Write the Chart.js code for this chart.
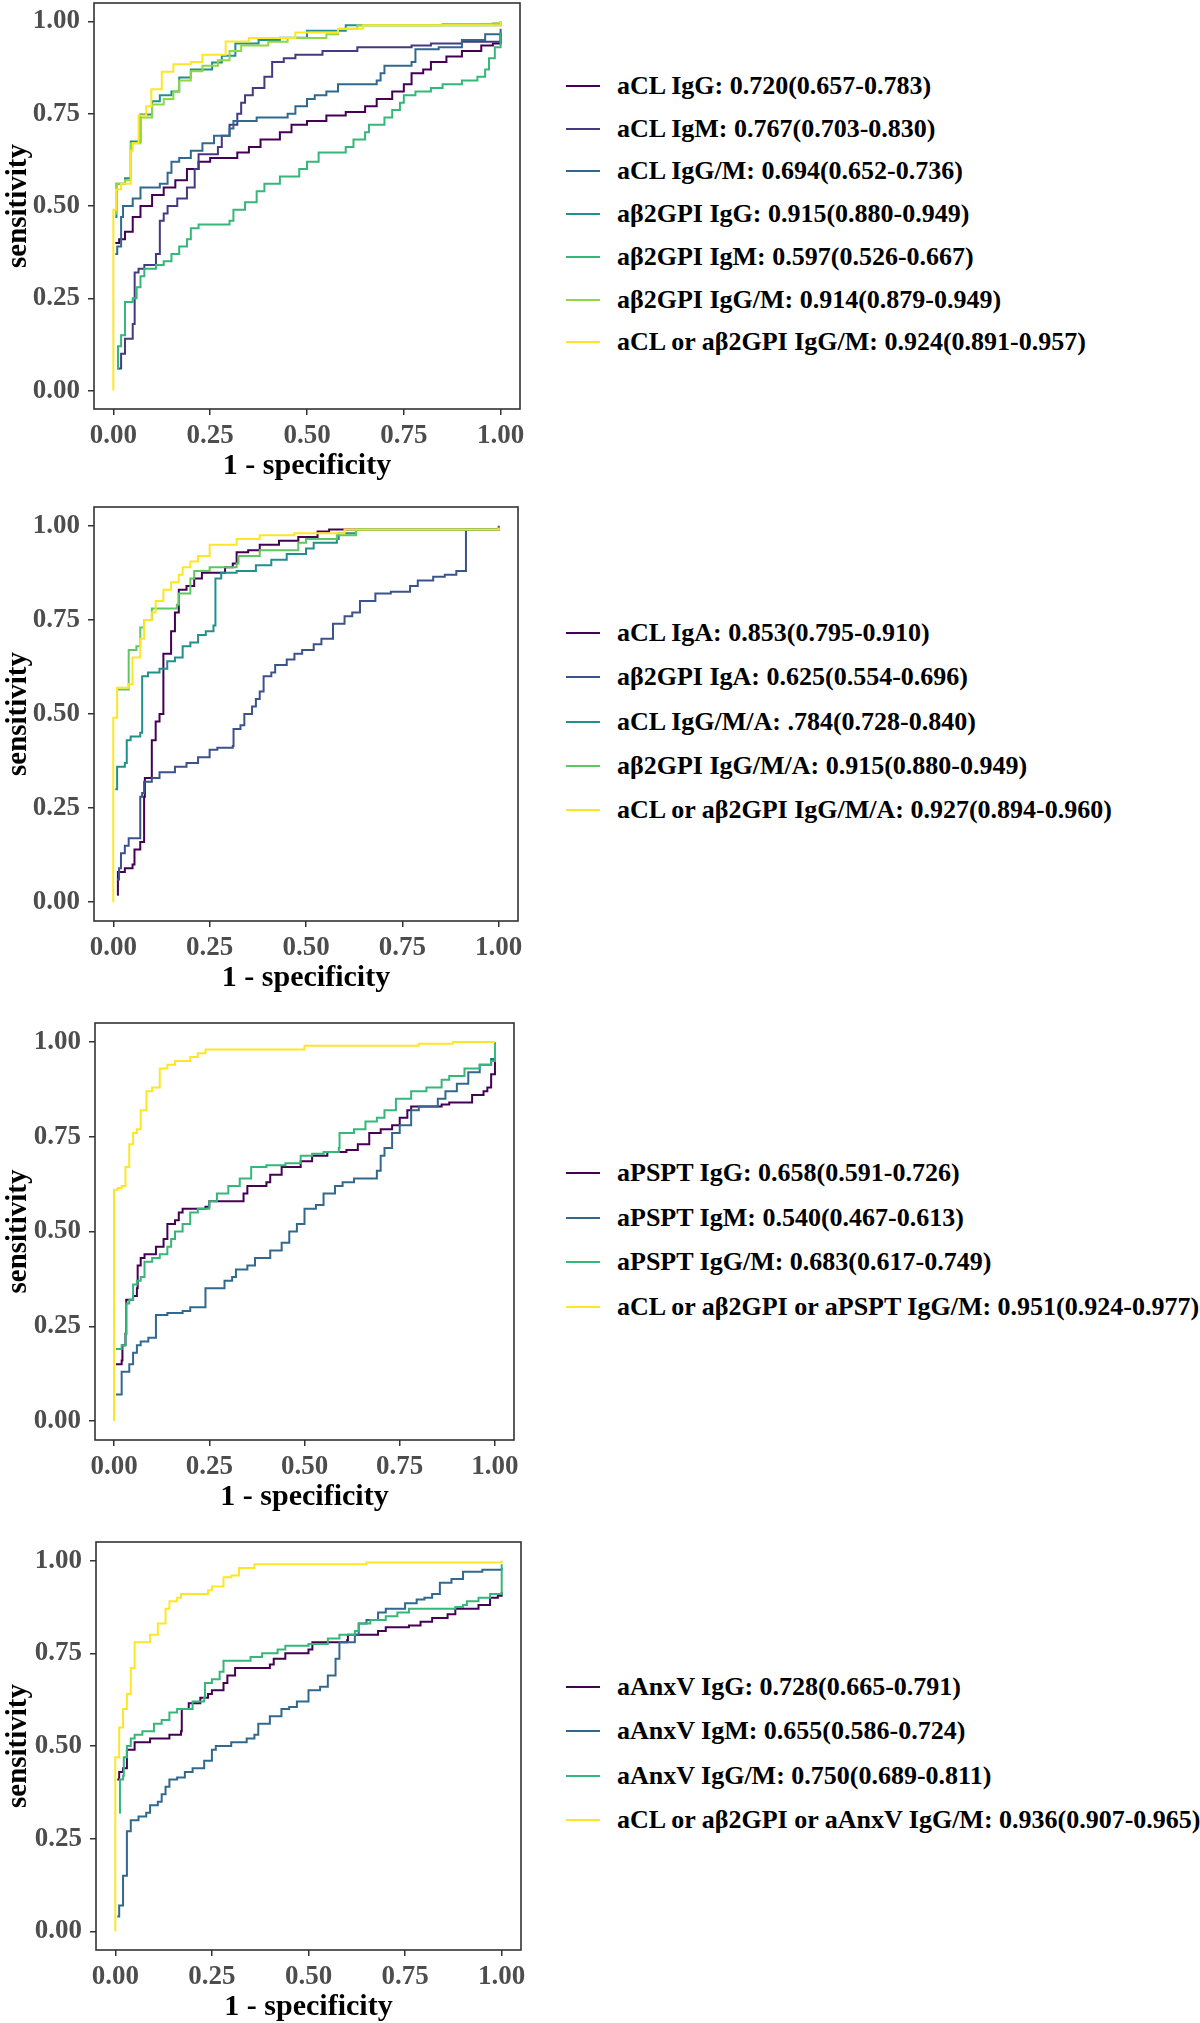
<!DOCTYPE html>
<html><head><meta charset="utf-8">
<script src="https://cdn.jsdelivr.net/npm/chart.js@4.4.1/dist/chart.umd.min.js"></script>
<style>
html,body{margin:0;padding:0;background:#fff;}
#root{position:relative;width:1200px;height:2023px;overflow:hidden;background:#fff;}
#root canvas{position:absolute;left:0;}
.legend{position:absolute;left:0;top:0;font-family:'Liberation Serif','Times New Roman',serif;font-weight:bold;font-size:26px;color:#000;}
.row{position:absolute;height:32px;display:flex;align-items:center;white-space:nowrap;}
.key{width:34px;height:2px;margin-right:17px;flex:none;}
</style></head><body><div id="root"></div>
<script>
// ---------- data ----------
const tickValues = [0, 0.25, 0.5, 0.75, 1];

// Panel 1
const p1Labels = ['aCL IgG: 0.720(0.657-0.783)','aCL IgM: 0.767(0.703-0.830)','aCL IgG/M: 0.694(0.652-0.736)','aβ2GPI IgG: 0.915(0.880-0.949)','aβ2GPI IgM: 0.597(0.526-0.667)','aβ2GPI IgG/M: 0.914(0.879-0.949)','aCL or aβ2GPI IgG/M: 0.924(0.891-0.957)'];
const p1_aCL_IgG = [[0.005,0.40],[0.015,0.41],[0.03,0.43],[0.05,0.47],[0.07,0.50],[0.1,0.53],[0.13,0.55],[0.16,0.57],[0.19,0.60],[0.22,0.62],[0.25,0.63],[0.32,0.645],[0.35,0.66],[0.38,0.68],[0.43,0.70],[0.46,0.72],[0.5,0.73],[0.55,0.745],[0.6,0.755],[0.65,0.77],[0.68,0.79],[0.72,0.81],[0.75,0.83],[0.77,0.86],[0.8,0.87],[0.82,0.89],[0.86,0.905],[0.9,0.92],[0.95,0.935],[0.98,0.94],[1,0.965]];
const p1_aCL_IgM = [[0.01,0.06],[0.02,0.10],[0.03,0.14],[0.05,0.18],[0.055,0.32],[0.065,0.33],[0.08,0.34],[0.11,0.37],[0.12,0.46],[0.13,0.48],[0.14,0.50],[0.165,0.52],[0.19,0.55],[0.21,0.60],[0.22,0.64],[0.27,0.66],[0.28,0.69],[0.3,0.72],[0.32,0.75],[0.33,0.78],[0.34,0.80],[0.36,0.82],[0.39,0.85],[0.41,0.89],[0.44,0.90],[0.47,0.91],[0.54,0.92],[0.63,0.93],[0.77,0.935],[0.82,0.94],[0.9,0.945],[1,0.95],[1,0.97]];
const p1_aCL_IgGM = [[0.005,0.37],[0.01,0.39],[0.02,0.47],[0.025,0.50],[0.05,0.52],[0.07,0.55],[0.12,0.56],[0.14,0.59],[0.15,0.62],[0.17,0.63],[0.2,0.65],[0.23,0.67],[0.26,0.69],[0.3,0.71],[0.31,0.73],[0.37,0.74],[0.45,0.75],[0.47,0.77],[0.5,0.79],[0.52,0.80],[0.55,0.81],[0.58,0.83],[0.68,0.84],[0.69,0.86],[0.7,0.88],[0.77,0.89],[0.78,0.925],[0.84,0.93],[0.9,0.95],[0.96,0.965],[1,0.98]];
const p1_b2_IgG = [[0.005,0.47],[0.008,0.56],[0.03,0.575],[0.045,0.675],[0.07,0.748],[0.1,0.784],[0.12,0.80],[0.15,0.81],[0.17,0.848],[0.2,0.87],[0.255,0.889],[0.28,0.907],[0.315,0.94],[0.375,0.95],[0.43,0.956],[0.5,0.975],[0.6,0.99],[1,1]];
const p1_b2_IgM = [[0.01,0.06],[0.012,0.12],[0.02,0.15],[0.03,0.24],[0.05,0.25],[0.06,0.28],[0.07,0.31],[0.08,0.33],[0.11,0.34],[0.13,0.35],[0.15,0.37],[0.17,0.39],[0.19,0.41],[0.2,0.44],[0.22,0.45],[0.3,0.46],[0.31,0.49],[0.34,0.51],[0.37,0.54],[0.39,0.56],[0.43,0.58],[0.48,0.60],[0.5,0.62],[0.53,0.645],[0.6,0.66],[0.62,0.68],[0.65,0.70],[0.66,0.72],[0.7,0.74],[0.72,0.76],[0.74,0.78],[0.75,0.80],[0.78,0.81],[0.82,0.82],[0.85,0.83],[0.9,0.84],[0.94,0.85],[0.96,0.87],[0.97,0.90],[0.985,0.93],[1,0.97]];
const p1_b2_IgGM = [[0.005,0.48],[0.008,0.56],[0.03,0.57],[0.045,0.67],[0.07,0.74],[0.1,0.775],[0.13,0.79],[0.155,0.81],[0.17,0.84],[0.2,0.865],[0.23,0.88],[0.27,0.895],[0.3,0.92],[0.33,0.935],[0.4,0.945],[0.45,0.955],[0.55,0.965],[0.58,0.98],[0.63,0.99],[0.85,0.993],[0.98,0.995],[1,1]];
const p1_or_IgGM = [[0,0],[0,0.49],[0.007,0.545],[0.02,0.56],[0.045,0.65],[0.05,0.67],[0.065,0.745],[0.085,0.77],[0.098,0.816],[0.125,0.864],[0.155,0.884],[0.2,0.89],[0.23,0.91],[0.29,0.946],[0.35,0.955],[0.47,0.97],[0.58,0.98],[0.645,0.99],[1,1]];

// Panel 2
const p2Labels = ['aCL IgA: 0.853(0.795-0.910)','aβ2GPI IgA: 0.625(0.554-0.696)','aCL IgG/M/A: .784(0.728-0.840)','aβ2GPI IgG/M/A: 0.915(0.880-0.949)','aCL or aβ2GPI IgG/M/A: 0.927(0.894-0.960)'];
const p2_aCL_IgA = [[0.01,0.02],[0.012,0.08],[0.03,0.09],[0.05,0.10],[0.055,0.14],[0.07,0.16],[0.08,0.28],[0.082,0.33],[0.1,0.43],[0.11,0.48],[0.12,0.50],[0.13,0.66],[0.15,0.72],[0.16,0.77],[0.17,0.83],[0.19,0.84],[0.21,0.86],[0.23,0.875],[0.29,0.89],[0.31,0.90],[0.32,0.93],[0.35,0.935],[0.38,0.95],[0.43,0.96],[0.48,0.97],[0.53,0.985],[0.56,0.99],[1,0.995]];
const p2_b2_IgA = [[0.01,0.06],[0.015,0.09],[0.02,0.13],[0.03,0.15],[0.04,0.17],[0.07,0.28],[0.075,0.29],[0.08,0.32],[0.1,0.33],[0.12,0.345],[0.16,0.36],[0.19,0.37],[0.22,0.385],[0.25,0.405],[0.27,0.41],[0.31,0.415],[0.312,0.46],[0.33,0.47],[0.34,0.50],[0.36,0.52],[0.37,0.54],[0.38,0.56],[0.39,0.60],[0.41,0.61],[0.42,0.63],[0.45,0.645],[0.47,0.66],[0.49,0.67],[0.52,0.685],[0.54,0.70],[0.57,0.74],[0.6,0.76],[0.62,0.77],[0.64,0.80],[0.68,0.82],[0.72,0.825],[0.77,0.84],[0.79,0.855],[0.83,0.865],[0.86,0.87],[0.89,0.88],[0.915,0.89],[0.915,0.99],[1,1]];
const p2_aCL_IgGMA = [[0.005,0.30],[0.01,0.36],[0.03,0.37],[0.035,0.43],[0.045,0.44],[0.07,0.45],[0.075,0.60],[0.09,0.61],[0.12,0.62],[0.14,0.64],[0.16,0.65],[0.18,0.68],[0.2,0.69],[0.22,0.71],[0.24,0.72],[0.26,0.735],[0.265,0.86],[0.28,0.875],[0.32,0.88],[0.37,0.895],[0.41,0.91],[0.45,0.925],[0.5,0.94],[0.52,0.955],[0.58,0.965],[0.585,0.98],[0.63,0.99],[1,0.995]];
const p2_b2_IgGMA = [[0.01,0.565],[0.04,0.67],[0.06,0.68],[0.07,0.73],[0.08,0.75],[0.1,0.78],[0.165,0.79],[0.17,0.82],[0.2,0.86],[0.21,0.88],[0.25,0.89],[0.32,0.90],[0.325,0.92],[0.38,0.935],[0.48,0.955],[0.5,0.965],[0.58,0.975],[0.63,0.99],[1,0.995]];
const p2_or_IgGMA = [[0,0],[0,0.49],[0.01,0.57],[0.04,0.58],[0.05,0.65],[0.07,0.70],[0.08,0.75],[0.1,0.77],[0.11,0.80],[0.13,0.83],[0.15,0.85],[0.17,0.87],[0.18,0.89],[0.2,0.905],[0.22,0.92],[0.25,0.95],[0.32,0.965],[0.38,0.975],[0.47,0.98],[0.6,0.99],[1,0.995]];

// Panel 3
const p3Labels = ['aPSPT IgG: 0.658(0.591-0.726)','aPSPT IgM: 0.540(0.467-0.613)','aPSPT IgG/M: 0.683(0.617-0.749)','aCL or aβ2GPI or aPSPT IgG/M: 0.951(0.924-0.977)'];
const p3_PSPT_IgG = [[0.005,0.15],[0.02,0.16],[0.022,0.20],[0.03,0.23],[0.032,0.32],[0.05,0.33],[0.06,0.35],[0.062,0.41],[0.07,0.43],[0.08,0.44],[0.11,0.46],[0.13,0.48],[0.14,0.52],[0.16,0.53],[0.17,0.55],[0.18,0.56],[0.24,0.565],[0.25,0.58],[0.34,0.60],[0.35,0.62],[0.4,0.63],[0.41,0.65],[0.44,0.67],[0.49,0.685],[0.52,0.70],[0.56,0.71],[0.61,0.715],[0.64,0.73],[0.67,0.76],[0.7,0.77],[0.73,0.78],[0.75,0.80],[0.77,0.82],[0.78,0.83],[0.86,0.835],[0.88,0.84],[0.94,0.86],[0.97,0.87],[0.98,0.88],[0.99,0.915],[1,0.96]];
const p3_PSPT_IgM = [[0.005,0.07],[0.02,0.13],[0.04,0.15],[0.05,0.18],[0.06,0.20],[0.07,0.21],[0.09,0.22],[0.11,0.28],[0.14,0.285],[0.18,0.29],[0.2,0.30],[0.24,0.35],[0.29,0.37],[0.31,0.38],[0.32,0.40],[0.35,0.41],[0.37,0.43],[0.41,0.45],[0.44,0.47],[0.46,0.50],[0.48,0.52],[0.5,0.56],[0.53,0.57],[0.55,0.60],[0.58,0.62],[0.6,0.63],[0.63,0.64],[0.69,0.66],[0.7,0.70],[0.71,0.72],[0.73,0.76],[0.75,0.78],[0.78,0.82],[0.8,0.83],[0.85,0.85],[0.87,0.87],[0.9,0.89],[0.93,0.92],[0.96,0.94],[0.99,0.955],[1,0.96]];
const p3_PSPT_IgGM = [[0.005,0.19],[0.02,0.20],[0.03,0.23],[0.032,0.31],[0.04,0.32],[0.05,0.36],[0.06,0.37],[0.07,0.38],[0.08,0.42],[0.1,0.43],[0.12,0.44],[0.14,0.46],[0.15,0.48],[0.16,0.50],[0.18,0.52],[0.2,0.55],[0.22,0.56],[0.25,0.58],[0.27,0.60],[0.3,0.62],[0.33,0.64],[0.36,0.67],[0.4,0.675],[0.45,0.68],[0.49,0.70],[0.52,0.705],[0.55,0.71],[0.59,0.72],[0.592,0.76],[0.63,0.77],[0.66,0.79],[0.69,0.80],[0.71,0.82],[0.74,0.85],[0.78,0.87],[0.82,0.88],[0.86,0.90],[0.88,0.91],[0.92,0.93],[0.96,0.94],[0.99,0.95],[1,1]];
const p3_or_IgGM = [[0,0],[0,0.61],[0.01,0.615],[0.02,0.62],[0.03,0.67],[0.04,0.73],[0.05,0.76],[0.06,0.77],[0.07,0.82],[0.085,0.87],[0.1,0.88],[0.12,0.93],[0.14,0.94],[0.16,0.95],[0.2,0.96],[0.22,0.97],[0.24,0.98],[0.5,0.99],[0.8,0.995],[0.89,1],[1,1]];

// Panel 4
const p4Labels = ['aAnxV IgG: 0.728(0.665-0.791)','aAnxV IgM: 0.655(0.586-0.724)','aAnxV IgG/M: 0.750(0.689-0.811)','aCL or aβ2GPI or aAnxV IgG/M: 0.936(0.907-0.965)'];
const p4_AnxV_IgG = [[0.005,0.41],[0.01,0.43],[0.02,0.44],[0.03,0.49],[0.05,0.51],[0.09,0.52],[0.14,0.53],[0.17,0.54],[0.172,0.60],[0.19,0.615],[0.22,0.63],[0.24,0.64],[0.25,0.65],[0.28,0.67],[0.29,0.69],[0.31,0.71],[0.4,0.72],[0.41,0.735],[0.44,0.75],[0.5,0.76],[0.51,0.78],[0.6,0.785],[0.602,0.80],[0.68,0.81],[0.7,0.82],[0.76,0.825],[0.79,0.835],[0.82,0.845],[0.86,0.855],[0.88,0.87],[0.94,0.88],[0.97,0.90],[0.99,0.905],[1,0.915]];
const p4_AnxV_IgM = [[0.005,0.04],[0.01,0.07],[0.02,0.15],[0.03,0.27],[0.04,0.30],[0.06,0.31],[0.08,0.32],[0.09,0.34],[0.11,0.35],[0.12,0.37],[0.13,0.39],[0.14,0.41],[0.16,0.415],[0.18,0.43],[0.2,0.44],[0.23,0.46],[0.25,0.49],[0.26,0.50],[0.3,0.51],[0.34,0.52],[0.36,0.53],[0.37,0.56],[0.4,0.58],[0.43,0.60],[0.45,0.605],[0.47,0.62],[0.5,0.65],[0.53,0.66],[0.55,0.69],[0.57,0.735],[0.58,0.78],[0.62,0.80],[0.63,0.83],[0.65,0.84],[0.68,0.86],[0.7,0.87],[0.75,0.885],[0.78,0.895],[0.8,0.90],[0.82,0.91],[0.84,0.94],[0.87,0.95],[0.9,0.97],[0.95,0.975],[1,0.98]];
const p4_AnxV_IgGM = [[0.01,0.32],[0.012,0.41],[0.02,0.42],[0.022,0.47],[0.03,0.50],[0.04,0.52],[0.05,0.53],[0.07,0.54],[0.1,0.56],[0.12,0.57],[0.14,0.59],[0.16,0.60],[0.2,0.62],[0.23,0.63],[0.232,0.67],[0.25,0.68],[0.27,0.70],[0.28,0.73],[0.35,0.74],[0.38,0.75],[0.42,0.76],[0.44,0.77],[0.5,0.775],[0.55,0.79],[0.58,0.80],[0.62,0.81],[0.63,0.83],[0.66,0.84],[0.7,0.85],[0.73,0.86],[0.76,0.87],[0.88,0.875],[0.9,0.88],[0.91,0.89],[0.94,0.90],[0.97,0.91],[1,0.92],[1,0.99]];
const p4_or_IgGM = [[0,0],[0,0.47],[0.01,0.55],[0.02,0.60],[0.03,0.64],[0.04,0.71],[0.05,0.78],[0.09,0.80],[0.11,0.83],[0.13,0.87],[0.14,0.89],[0.16,0.90],[0.17,0.91],[0.24,0.92],[0.25,0.93],[0.28,0.955],[0.3,0.96],[0.32,0.98],[0.36,0.99],[0.65,0.995],[1,1]];

// ---------- styles & layout (kept apart from data) ----------
const viridis7 = ['#440154','#443A83','#31688E','#21908C','#35B779','#8FD744','#FDE725'];
const viridis5 = ['#440154','#3B528B','#21908C','#5DC863','#FDE725'];
const viridis4 = ['#440154','#31688E','#35B779','#FDE725'];
const FONT = "'Liberation Serif','Times New Roman',serif";

const panels = [
  {labels:p1Labels, series:[p1_aCL_IgG,p1_aCL_IgM,p1_aCL_IgGM,p1_b2_IgG,p1_b2_IgM,p1_b2_IgGM,p1_or_IgGM], colors:viridis7,
   box:{left:94,right:520,top:3,bottom:409}, legend:{top:86,step:42.7}},
  {labels:p2Labels, series:[p2_aCL_IgA,p2_b2_IgA,p2_aCL_IgGMA,p2_b2_IgGMA,p2_or_IgGMA], colors:viridis5,
   box:{left:94,right:518,top:507,bottom:921}, legend:{top:633,step:44.3}},
  {labels:p3Labels, series:[p3_PSPT_IgG,p3_PSPT_IgM,p3_PSPT_IgGM,p3_or_IgGM], colors:viridis4,
   box:{left:95,right:514,top:1023,bottom:1440}, legend:{top:1173,step:44.6}},
  {labels:p4Labels, series:[p4_AnxV_IgG,p4_AnxV_IgM,p4_AnxV_IgGM,p4_or_IgGM], colors:viridis4,
   box:{left:96,right:521,top:1542,bottom:1950}, legend:{top:1687,step:44.3}}
];

const XAXIS_H = 75;
const framePlugin = {
  id:'frame',
  afterDatasetsDraw(chart){
    const {ctx, chartArea:a} = chart;
    ctx.save(); ctx.strokeStyle = '#333333'; ctx.lineWidth = 1.6;
    ctx.strokeRect(a.left, a.top, a.right - a.left, a.bottom - a.top);
    ctx.restore();
  }
};

const root = document.getElementById('root');

panels.forEach((p) => {
  const b = p.box;
  const padTop = 32;
  const canvasTop = b.top - padTop;
  const cw = 560;
  const ch = (b.bottom - b.top) + padTop + XAXIS_H + 8;
  const cv = document.createElement('canvas');
  cv.width = cw; cv.height = ch;
  cv.style.width = cw + 'px'; cv.style.height = ch + 'px';
  cv.style.top = canvasTop + 'px';
  root.appendChild(cv);

  const n = p.series.length;
  const common = (isX) => ({
    type:'linear', min:-0.05, max:1.05,
    afterBuildTicks: (s) => { s.ticks = tickValues.map(v => ({value:v})); },
    ticks:{ callback:(v) => Number(v).toFixed(2), color:'#4D4D4D', font:{family:FONT, size:27, weight:'bold'},
            padding: isX ? 5 : 8, maxRotation:0, autoSkip:false },
    grid:{ display:true, drawOnChartArea:false, drawTicks:true, tickLength:6, color:'#333333', lineWidth:1.5 },
    border:{ display:false }
  });
  const xs = common(true);
  xs.afterFit = (s) => { s.height = XAXIS_H; };
  xs.title = { display:true, text:'1 - specificity', color:'#000', font:{family:FONT, size:30, weight:'bold'}, padding:{top:0,bottom:0} };
  const ys = common(false);
  ys.afterFit = (s) => { s.width = b.left; };
  ys.title = { display:true, text:'sensitivity', color:'#000', font:{family:FONT, size:29, weight:'bold'}, padding:{top:1,bottom:0} };

  new Chart(cv.getContext('2d'), {
    type:'line',
    data:{ datasets: p.series.map((s, k) => ({
      label: p.labels[k],
      data: s.map(([x, y]) => ({x, y})),
      borderColor: p.colors[k], backgroundColor: p.colors[k],
      borderWidth: 2, pointRadius: 0, fill: false, tension: 0,
      stepped: 'before', order: n - k
    })) },
    options:{
      responsive:false, animation:false,
      layout:{ padding:{ left:0, top:padTop, right: cw - b.right, bottom: 8 } },
      plugins:{ legend:{display:false}, tooltip:{enabled:false} },
      scales:{ x: xs, y: ys }
    },
    plugins:[framePlugin]
  });

  // HTML legend built from the label/colour arrays
  const lg = document.createElement('div');
  lg.className = 'legend';
  p.labels.forEach((lab, k) => {
    const row = document.createElement('div');
    row.className = 'row';
    row.style.left = '566px';
    row.style.top = (p.legend.top + k * p.legend.step - 16) + 'px';
    const key = document.createElement('span');
    key.className = 'key'; key.style.background = p.colors[k];
    const txt = document.createElement('span');
    txt.textContent = lab;
    row.appendChild(key); row.appendChild(txt);
    lg.appendChild(row);
  });
  root.appendChild(lg);
});
</script>
</body></html>
